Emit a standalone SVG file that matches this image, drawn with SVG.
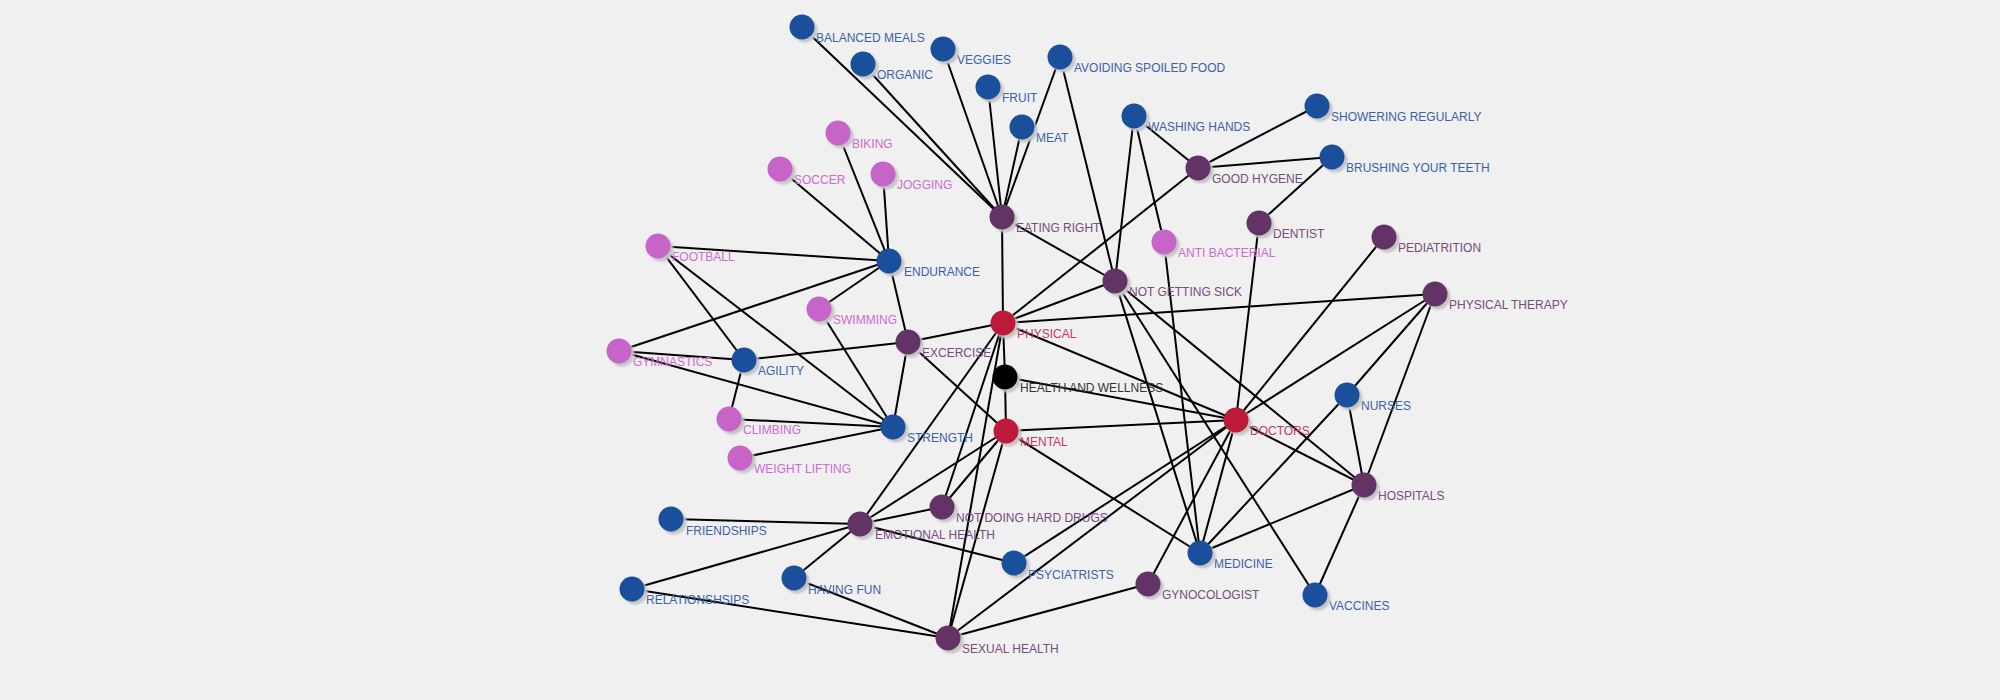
<svg xmlns="http://www.w3.org/2000/svg" width="2000" height="700" viewBox="0 0 2000 700">
<defs>
<filter id="sh" x="-50%" y="-50%" width="200%" height="200%"><feGaussianBlur stdDeviation="1"/></filter>
</defs>
<style>
.bg{fill:#f0f0f0}
#links line{stroke:#000;stroke-width:2}
text{font-family:"Liberation Sans",Arial,sans-serif;font-size:12px}
.s{fill:#c4c4c4;filter:url(#sh)}
.b circle.c{fill:#1a4f9c}.b text{fill:#3b62a6}
.p circle.c{fill:#633366}.p text{fill:#774b7c}
.k circle.c{fill:#c764c8}.k text{fill:#cc6ccc}
.r circle.c{fill:#bd1a3a}.r text{fill:#c43a5c}
.h circle.c{fill:#000}.h text{fill:#333}
</style>
<rect class="bg" width="2000" height="700"/>
<g id="links">
<line x1="1002" y1="217" x2="802" y2="27"/>
<line x1="1002" y1="217" x2="863" y2="64"/>
<line x1="1002" y1="217" x2="943" y2="49"/>
<line x1="1002" y1="217" x2="988" y2="87"/>
<line x1="1002" y1="217" x2="1022" y2="127"/>
<line x1="1002" y1="217" x2="1060" y2="57"/>
<line x1="1002" y1="217" x2="1003" y2="323"/>
<line x1="1002" y1="217" x2="1115" y2="281"/>
<line x1="1060" y1="57" x2="1115" y2="281"/>
<line x1="1134" y1="116" x2="1198" y2="168"/>
<line x1="1134" y1="116" x2="1115" y2="281"/>
<line x1="1134" y1="116" x2="1164" y2="242"/>
<line x1="1198" y1="168" x2="1317" y2="106"/>
<line x1="1198" y1="168" x2="1332" y2="157"/>
<line x1="1198" y1="168" x2="1003" y2="323"/>
<line x1="1332" y1="157" x2="1259" y2="223"/>
<line x1="1259" y1="223" x2="1236" y2="420"/>
<line x1="1164" y1="242" x2="1200" y2="553"/>
<line x1="1384" y1="237" x2="1236" y2="420"/>
<line x1="1115" y1="281" x2="1003" y2="323"/>
<line x1="1115" y1="281" x2="1200" y2="553"/>
<line x1="1115" y1="281" x2="1315" y2="595"/>
<line x1="1115" y1="281" x2="1364" y2="485"/>
<line x1="1435" y1="294" x2="1003" y2="323"/>
<line x1="1435" y1="294" x2="1236" y2="420"/>
<line x1="1435" y1="294" x2="1347" y2="395"/>
<line x1="1435" y1="294" x2="1364" y2="485"/>
<line x1="889" y1="261" x2="838" y2="133"/>
<line x1="889" y1="261" x2="780" y2="169"/>
<line x1="889" y1="261" x2="883" y2="174"/>
<line x1="889" y1="261" x2="658" y2="246"/>
<line x1="889" y1="261" x2="619" y2="351"/>
<line x1="889" y1="261" x2="819" y2="309"/>
<line x1="889" y1="261" x2="908" y2="342"/>
<line x1="908" y1="342" x2="1003" y2="323"/>
<line x1="908" y1="342" x2="893" y2="427"/>
<line x1="908" y1="342" x2="744" y2="360"/>
<line x1="908" y1="342" x2="1006" y2="431"/>
<line x1="744" y1="360" x2="658" y2="246"/>
<line x1="744" y1="360" x2="619" y2="351"/>
<line x1="744" y1="360" x2="729" y2="419"/>
<line x1="893" y1="427" x2="658" y2="246"/>
<line x1="893" y1="427" x2="619" y2="351"/>
<line x1="893" y1="427" x2="819" y2="309"/>
<line x1="893" y1="427" x2="729" y2="419"/>
<line x1="893" y1="427" x2="740" y2="458"/>
<line x1="1003" y1="323" x2="1005" y2="377"/>
<line x1="1003" y1="323" x2="1236" y2="420"/>
<line x1="1003" y1="323" x2="860" y2="524"/>
<line x1="1003" y1="323" x2="942" y2="507"/>
<line x1="1003" y1="323" x2="948" y2="638"/>
<line x1="1005" y1="377" x2="1006" y2="431"/>
<line x1="1005" y1="377" x2="1236" y2="420"/>
<line x1="1006" y1="431" x2="1236" y2="420"/>
<line x1="1006" y1="431" x2="860" y2="524"/>
<line x1="1006" y1="431" x2="942" y2="507"/>
<line x1="1006" y1="431" x2="948" y2="638"/>
<line x1="1006" y1="431" x2="1200" y2="553"/>
<line x1="1236" y1="420" x2="1200" y2="553"/>
<line x1="1236" y1="420" x2="1148" y2="584"/>
<line x1="1236" y1="420" x2="1364" y2="485"/>
<line x1="1236" y1="420" x2="1014" y2="563"/>
<line x1="1236" y1="420" x2="948" y2="638"/>
<line x1="1347" y1="395" x2="1364" y2="485"/>
<line x1="1347" y1="395" x2="1200" y2="553"/>
<line x1="1364" y1="485" x2="1200" y2="553"/>
<line x1="1364" y1="485" x2="1315" y2="595"/>
<line x1="860" y1="524" x2="671" y2="519"/>
<line x1="860" y1="524" x2="632" y2="589"/>
<line x1="860" y1="524" x2="794" y2="578"/>
<line x1="860" y1="524" x2="1014" y2="563"/>
<line x1="860" y1="524" x2="942" y2="507"/>
<line x1="948" y1="638" x2="632" y2="589"/>
<line x1="948" y1="638" x2="794" y2="578"/>
<line x1="948" y1="638" x2="1148" y2="584"/>
</g>
<g id="n-balanced-meals" class="b"><text x="816" y="42">BALANCED MEALS</text><circle class="s" cx="805" cy="30" r="12.5"/><circle class="c" cx="802" cy="27" r="12.5"/></g>
<g id="n-organic" class="b"><text x="877" y="79">ORGANIC</text><circle class="s" cx="866" cy="67" r="12.5"/><circle class="c" cx="863" cy="64" r="12.5"/></g>
<g id="n-veggies" class="b"><text x="957" y="64">VEGGIES</text><circle class="s" cx="946" cy="52" r="12.5"/><circle class="c" cx="943" cy="49" r="12.5"/></g>
<g id="n-fruit" class="b"><text x="1002" y="102">FRUIT</text><circle class="s" cx="991" cy="90" r="12.5"/><circle class="c" cx="988" cy="87" r="12.5"/></g>
<g id="n-meat" class="b"><text x="1036" y="142">MEAT</text><circle class="s" cx="1025" cy="130" r="12.5"/><circle class="c" cx="1022" cy="127" r="12.5"/></g>
<g id="n-avoiding" class="b"><text x="1074" y="72">AVOIDING SPOILED FOOD</text><circle class="s" cx="1063" cy="60" r="12.5"/><circle class="c" cx="1060" cy="57" r="12.5"/></g>
<g id="n-washing" class="b"><text x="1148" y="131">WASHING HANDS</text><circle class="s" cx="1137" cy="119" r="12.5"/><circle class="c" cx="1134" cy="116" r="12.5"/></g>
<g id="n-showering" class="b"><text x="1331" y="121">SHOWERING REGULARLY</text><circle class="s" cx="1320" cy="109" r="12.5"/><circle class="c" cx="1317" cy="106" r="12.5"/></g>
<g id="n-good-hygene" class="p"><text x="1212" y="183">GOOD HYGENE</text><circle class="s" cx="1201" cy="171" r="12.5"/><circle class="c" cx="1198" cy="168" r="12.5"/></g>
<g id="n-brushing" class="b"><text x="1346" y="172">BRUSHING YOUR TEETH</text><circle class="s" cx="1335" cy="160" r="12.5"/><circle class="c" cx="1332" cy="157" r="12.5"/></g>
<g id="n-dentist" class="p"><text x="1273" y="238">DENTIST</text><circle class="s" cx="1262" cy="226" r="12.5"/><circle class="c" cx="1259" cy="223" r="12.5"/></g>
<g id="n-anti-bacterial" class="k"><text x="1178" y="257">ANTI BACTERIAL</text><circle class="s" cx="1167" cy="245" r="12.5"/><circle class="c" cx="1164" cy="242" r="12.5"/></g>
<g id="n-pediatrition" class="p"><text x="1398" y="252">PEDIATRITION</text><circle class="s" cx="1387" cy="240" r="12.5"/><circle class="c" cx="1384" cy="237" r="12.5"/></g>
<g id="n-not-getting-sick" class="p"><text x="1129" y="296">NOT GETTING SICK</text><circle class="s" cx="1118" cy="284" r="12.5"/><circle class="c" cx="1115" cy="281" r="12.5"/></g>
<g id="n-physical-therapy" class="p"><text x="1449" y="309">PHYSICAL THERAPY</text><circle class="s" cx="1438" cy="297" r="12.5"/><circle class="c" cx="1435" cy="294" r="12.5"/></g>
<g id="n-biking" class="k"><text x="852" y="148">BIKING</text><circle class="s" cx="841" cy="136" r="12.5"/><circle class="c" cx="838" cy="133" r="12.5"/></g>
<g id="n-soccer" class="k"><text x="794" y="184">SOCCER</text><circle class="s" cx="783" cy="172" r="12.5"/><circle class="c" cx="780" cy="169" r="12.5"/></g>
<g id="n-jogging" class="k"><text x="897" y="189">JOGGING</text><circle class="s" cx="886" cy="177" r="12.5"/><circle class="c" cx="883" cy="174" r="12.5"/></g>
<g id="n-eating-right" class="p"><text x="1016" y="232">EATING RIGHT</text><circle class="s" cx="1005" cy="220" r="12.5"/><circle class="c" cx="1002" cy="217" r="12.5"/></g>
<g id="n-football" class="k"><text x="672" y="261">FOOTBALL</text><circle class="s" cx="661" cy="249" r="12.5"/><circle class="c" cx="658" cy="246" r="12.5"/></g>
<g id="n-endurance" class="b"><text x="904" y="276">ENDURANCE</text><circle class="s" cx="892" cy="264" r="12.5"/><circle class="c" cx="889" cy="261" r="12.5"/></g>
<g id="n-swimming" class="k"><text x="833" y="324">SWIMMING</text><circle class="s" cx="822" cy="312" r="12.5"/><circle class="c" cx="819" cy="309" r="12.5"/></g>
<g id="n-excercise" class="p"><text x="922" y="357">EXCERCISE</text><circle class="s" cx="911" cy="345" r="12.5"/><circle class="c" cx="908" cy="342" r="12.5"/></g>
<g id="n-gymnastics" class="k"><text x="633" y="366">GYMNASTICS</text><circle class="s" cx="622" cy="354" r="12.5"/><circle class="c" cx="619" cy="351" r="12.5"/></g>
<g id="n-agility" class="b"><text x="758" y="375">AGILITY</text><circle class="s" cx="747" cy="363" r="12.5"/><circle class="c" cx="744" cy="360" r="12.5"/></g>
<g id="n-physical" class="r"><text x="1017" y="338">PHYSICAL</text><circle class="s" cx="1006" cy="326" r="12.5"/><circle class="c" cx="1003" cy="323" r="12.5"/></g>
<g id="n-health-and-wellness" class="h"><text x="1020" y="392">HEALTH AND WELLNESS</text><circle class="s" cx="1008" cy="380" r="12.5"/><circle class="c" cx="1005" cy="377" r="12.5"/></g>
<g id="n-climbing" class="k"><text x="743" y="434">CLIMBING</text><circle class="s" cx="732" cy="422" r="12.5"/><circle class="c" cx="729" cy="419" r="12.5"/></g>
<g id="n-strength" class="b"><text x="907" y="442">STRENGTH</text><circle class="s" cx="896" cy="430" r="12.5"/><circle class="c" cx="893" cy="427" r="12.5"/></g>
<g id="n-mental" class="r"><text x="1020" y="446">MENTAL</text><circle class="s" cx="1009" cy="434" r="12.5"/><circle class="c" cx="1006" cy="431" r="12.5"/></g>
<g id="n-weight-lifting" class="k"><text x="754" y="473">WEIGHT LIFTING</text><circle class="s" cx="743" cy="461" r="12.5"/><circle class="c" cx="740" cy="458" r="12.5"/></g>
<g id="n-nurses" class="b"><text x="1361" y="410">NURSES</text><circle class="s" cx="1350" cy="398" r="12.5"/><circle class="c" cx="1347" cy="395" r="12.5"/></g>
<g id="n-doctors" class="r"><text x="1250" y="435">DOCTORS</text><circle class="s" cx="1239" cy="423" r="12.5"/><circle class="c" cx="1236" cy="420" r="12.5"/></g>
<g id="n-hospitals" class="p"><text x="1378" y="500">HOSPITALS</text><circle class="s" cx="1367" cy="488" r="12.5"/><circle class="c" cx="1364" cy="485" r="12.5"/></g>
<g id="n-medicine" class="b"><text x="1214" y="568">MEDICINE</text><circle class="s" cx="1203" cy="556" r="12.5"/><circle class="c" cx="1200" cy="553" r="12.5"/></g>
<g id="n-gynocologist" class="p"><text x="1162" y="599">GYNOCOLOGIST</text><circle class="s" cx="1151" cy="587" r="12.5"/><circle class="c" cx="1148" cy="584" r="12.5"/></g>
<g id="n-vaccines" class="b"><text x="1329" y="610">VACCINES</text><circle class="s" cx="1318" cy="598" r="12.5"/><circle class="c" cx="1315" cy="595" r="12.5"/></g>
<g id="n-friendships" class="b"><text x="686" y="535">FRIENDSHIPS</text><circle class="s" cx="674" cy="522" r="12.5"/><circle class="c" cx="671" cy="519" r="12.5"/></g>
<g id="n-emotional-health" class="p"><text x="875" y="539">EMOTIONAL HEALTH</text><circle class="s" cx="863" cy="527" r="12.5"/><circle class="c" cx="860" cy="524" r="12.5"/></g>
<g id="n-not-doing-hard-drugs" class="p"><text x="956" y="522">NOT DOING HARD DRUGS</text><circle class="s" cx="945" cy="510" r="12.5"/><circle class="c" cx="942" cy="507" r="12.5"/></g>
<g id="n-relationshsips" class="b"><text x="646" y="604">RELATIONSHSIPS</text><circle class="s" cx="635" cy="592" r="12.5"/><circle class="c" cx="632" cy="589" r="12.5"/></g>
<g id="n-having-fun" class="b"><text x="808" y="594">HAVING FUN</text><circle class="s" cx="797" cy="581" r="12.5"/><circle class="c" cx="794" cy="578" r="12.5"/></g>
<g id="n-psyciatrists" class="b"><text x="1028" y="579">PSYCIATRISTS</text><circle class="s" cx="1017" cy="566" r="12.5"/><circle class="c" cx="1014" cy="563" r="12.5"/></g>
<g id="n-sexual-health" class="p"><text x="962" y="653">SEXUAL HEALTH</text><circle class="s" cx="951" cy="641" r="12.5"/><circle class="c" cx="948" cy="638" r="12.5"/></g>
</svg>
